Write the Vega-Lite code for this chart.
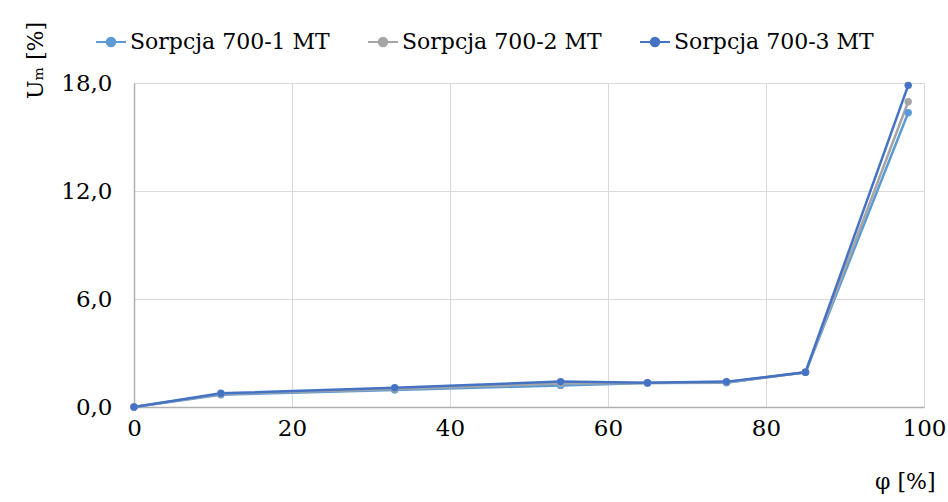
{
  "$schema": "https://vega.github.io/schema/vega-lite/v6.json",
  "width": 790,
  "height": 324,
  "autosize": {"type": "none"},
  "padding": {"left": 134, "top": 83, "right": 24, "bottom": 95},
  "background": "white",
  "config": {
    "font": "DejaVu Serif",
    "view": {"stroke": null},
    "axis": {
      "labelFont": "DejaVu Serif",
      "titleFont": "DejaVu Serif",
      "labelFontSize": 23,
      "titleFontSize": 22,
      "labelColor": "#000000",
      "titleColor": "#000000",
      "titleFontWeight": "normal",
      "gridColor": "#D9D9D9",
      "gridWidth": 1,
      "domainColor": "#B0B0B0",
      "domainWidth": 1.5,
      "ticks": false,
      "labelFlush": false
    },
    "legend": {
      "labelFont": "DejaVu Serif",
      "labelFontSize": 22,
      "labelColor": "#000000",
      "labelLimit": 400
    }
  },
  "data": {
    "values": [
      {"phi": 0, "u": 0, "s": "Sorpcja 700-1 MT"},
      {"phi": 11, "u": 0.68, "s": "Sorpcja 700-1 MT"},
      {"phi": 33, "u": 0.94, "s": "Sorpcja 700-1 MT"},
      {"phi": 54, "u": 1.2, "s": "Sorpcja 700-1 MT"},
      {"phi": 65, "u": 1.33, "s": "Sorpcja 700-1 MT"},
      {"phi": 75, "u": 1.35, "s": "Sorpcja 700-1 MT"},
      {"phi": 85, "u": 1.93, "s": "Sorpcja 700-1 MT"},
      {"phi": 98, "u": 16.35, "s": "Sorpcja 700-1 MT"},
      {"phi": 0, "u": 0, "s": "Sorpcja 700-2 MT"},
      {"phi": 11, "u": 0.72, "s": "Sorpcja 700-2 MT"},
      {"phi": 33, "u": 1.0, "s": "Sorpcja 700-2 MT"},
      {"phi": 54, "u": 1.3, "s": "Sorpcja 700-2 MT"},
      {"phi": 65, "u": 1.34, "s": "Sorpcja 700-2 MT"},
      {"phi": 75, "u": 1.38, "s": "Sorpcja 700-2 MT"},
      {"phi": 85, "u": 1.93, "s": "Sorpcja 700-2 MT"},
      {"phi": 98, "u": 16.96, "s": "Sorpcja 700-2 MT"},
      {"phi": 0, "u": 0, "s": "Sorpcja 700-3 MT"},
      {"phi": 11, "u": 0.76, "s": "Sorpcja 700-3 MT"},
      {"phi": 33, "u": 1.07, "s": "Sorpcja 700-3 MT"},
      {"phi": 54, "u": 1.41, "s": "Sorpcja 700-3 MT"},
      {"phi": 65, "u": 1.35, "s": "Sorpcja 700-3 MT"},
      {"phi": 75, "u": 1.41, "s": "Sorpcja 700-3 MT"},
      {"phi": 85, "u": 1.93, "s": "Sorpcja 700-3 MT"},
      {"phi": 98, "u": 17.87, "s": "Sorpcja 700-3 MT"}
    ]
  },
  "mark": {
    "type": "line",
    "strokeWidth": 2.5,
    "point": {"filled": true, "size": 55}
  },
  "encoding": {
    "x": {
      "field": "phi",
      "type": "quantitative",
      "scale": {"domain": [0, 100], "nice": false},
      "axis": {
        "values": [0, 20, 40, 60, 80, 100],
        "labelPadding": 10,
        "title": "φ [%]",
        "titleAnchor": "end",
        "titleAlign": "right",
        "titleX": 801,
        "titleY": 81,
        "titleBaseline": "alphabetic"
      }
    },
    "y": {
      "field": "u",
      "type": "quantitative",
      "scale": {"domain": [0, 18], "nice": false},
      "axis": {
        "values": [0, 6, 12, 18],
        "labelExpr": "replace(format(datum.value, '.1f'), '.', ',')",
        "labelPadding": 22,
        "title": "Uₘ [%]",
        "titleAngle": -90,
        "titleAlign": "center",
        "titleBaseline": "middle",
        "titleX": -99,
        "titleY": -23
      }
    },
    "color": {
      "field": "s",
      "type": "nominal",
      "scale": {
        "domain": ["Sorpcja 700-1 MT", "Sorpcja 700-2 MT", "Sorpcja 700-3 MT"],
        "range": ["#5B9BD5", "#A5A5A5", "#4472C4"]
      },
      "legend": {
        "title": null,
        "orient": "none",
        "direction": "horizontal",
        "legendX": -39,
        "legendY": -57,
        "symbolType": "M-1,0H1M0.28,0A0.28,0.28 0 1 1 -0.28,0A0.28,0.28 0 1 1 0.28,0Z",
        "symbolSize": 900,
        "symbolStrokeWidth": 2,
        "labelOffset": 3,
        "columnPadding": 34
      }
    }
  }
}
